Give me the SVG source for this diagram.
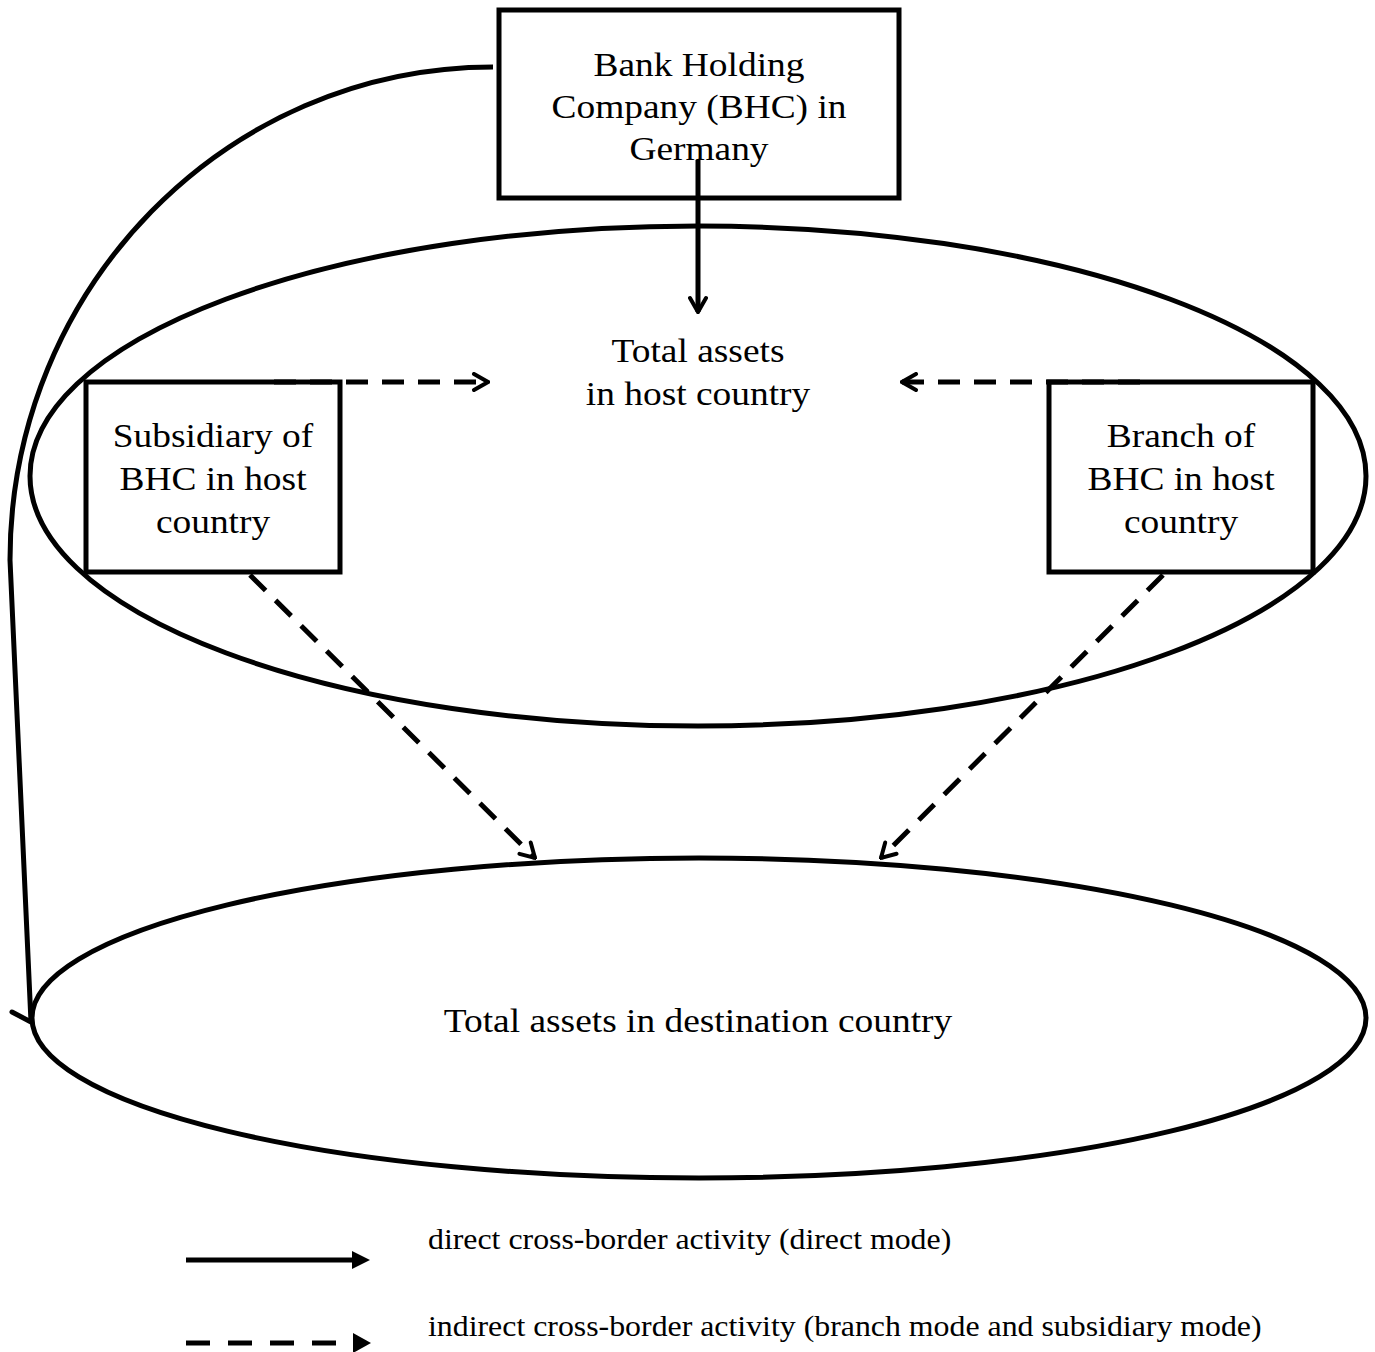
<svg xmlns="http://www.w3.org/2000/svg" width="1375" height="1352" viewBox="0 0 1375 1352">
<style>
.s{fill:none;stroke:#000;stroke-width:5}
.d{fill:none;stroke:#000;stroke-width:5;stroke-dasharray:22 14}
.t{font-family:"Liberation Serif","Times New Roman",serif;font-size:33.7px;text-anchor:middle;fill:#000}
.l{font-family:"Liberation Serif","Times New Roman",serif;font-size:28.7px;fill:#000}
</style>
<defs>
<marker id="o" viewBox="0 0 20 20" refX="18" refY="10" markerWidth="20" markerHeight="20" markerUnits="userSpaceOnUse" orient="auto"><path d="M4,2 L18,10 L4,18" fill="none" stroke="#000" stroke-width="4" stroke-linecap="round"/></marker>
</defs>
<g id="host-ellipse"><ellipse class="s" cx="698" cy="476" rx="668" ry="250"/></g>
<g id="dest-ellipse"><ellipse class="s" cx="699" cy="1018" rx="667" ry="160"/><text class="t" transform="translate(698,1032) scale(1.11,1)">Total assets in destination country</text></g>
<g id="bhc"><rect class="s" x="499" y="10" width="400" height="188" fill="#fff"/><text class="t" transform="translate(699,76) scale(1.11,1)">Bank Holding</text><text class="t" transform="translate(699,118) scale(1.11,1)">Company (BHC) in</text><text class="t" transform="translate(699,160) scale(1.11,1)">Germany</text></g>
<g id="host-label"><text class="t" transform="translate(698,362) scale(1.11,1)">Total assets</text><text class="t" transform="translate(698,405) scale(1.11,1)">in host country</text></g>
<g id="subsidiary"><rect class="s" x="86" y="382" width="254" height="190"/><text class="t" transform="translate(213,447) scale(1.11,1)">Subsidiary of</text><text class="t" transform="translate(213,490) scale(1.11,1)">BHC in host</text><text class="t" transform="translate(213,533) scale(1.11,1)">country</text></g>
<g id="branch"><rect class="s" x="1049" y="382" width="264" height="190"/><text class="t" transform="translate(1181,447) scale(1.11,1)">Branch of</text><text class="t" transform="translate(1181,490) scale(1.11,1)">BHC in host</text><text class="t" transform="translate(1181,533) scale(1.11,1)">country</text></g>
<g id="connectors">
<path class="s" d="M698,160 L698,312" marker-end="url(#o)"/>
<path class="d" d="M274,382 L488,382" marker-end="url(#o)"/>
<path class="d" d="M1140,382 L902,382" marker-end="url(#o)"/>
<path class="d" d="M250,575 L535,858" marker-end="url(#o)"/>
<path class="d" d="M1163,575 L881,858" marker-end="url(#o)"/>
<path class="s" d="M493,67 C226,67 10,288 10,560 L31,1022"/>
<path class="s" d="M12,1012 L31,1022" stroke-linecap="round"/>
<path class="s" d="M186,1260 L356,1260"/>
<path d="M352,1251 L370,1260 L352,1269 Z" fill="#000"/>
<path class="s" d="M186,1343 L340,1343" stroke-dasharray="24 18"/>
<path d="M353,1333 L371,1343 L353,1353 Z" fill="#000"/>
</g>
<g id="legend"><text class="l" transform="translate(428,1249) scale(1.11,1)">direct cross-border activity (direct mode)</text><text class="l" transform="translate(428,1336) scale(1.11,1)">indirect cross-border activity (branch mode and subsidiary mode)</text></g>
</svg>
